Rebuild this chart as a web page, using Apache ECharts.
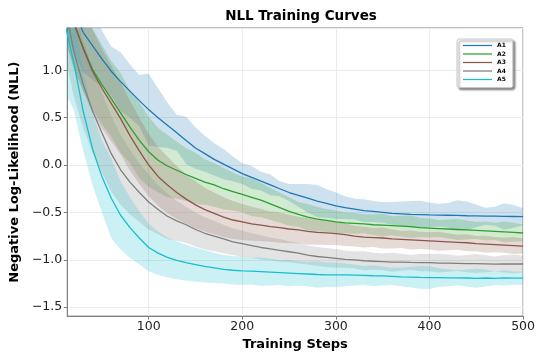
<!DOCTYPE html>
<html>
<head>
<meta charset="utf-8">
<script src="https://cdn.jsdelivr.net/npm/echarts@6/dist/echarts.min.js"></script>
<style>
  html, body { margin: 0; padding: 0; background: #fff; }
  #chart { width: 538px; height: 356px; }
</style>
</head>
<body>
<div id="chart"></div>
<script>
// training steps (x)
var steps = [10, 20, 30, 40, 50, 60, 70, 80, 90, 100,
  110, 120, 130, 140, 150, 160, 170, 180, 190, 200,
  210, 220, 230, 240, 250, 260, 270, 280, 290, 300,
  310, 320, 330, 340, 350, 360, 370, 380, 390, 400,
  410, 420, 430, 440, 450, 460, 470, 480, 490, 500];

// mean NLL per run
var meanA1 = [2.0, 1.64, 1.40, 1.26, 1.12, 0.99, 0.88, 0.78, 0.68, 0.585,
  0.50, 0.42, 0.34, 0.26, 0.18, 0.12, 0.06, 0.01, -0.04, -0.09,
  -0.13, -0.17, -0.21, -0.25, -0.29, -0.32, -0.35, -0.38, -0.405, -0.43,
  -0.45, -0.465, -0.48, -0.49, -0.50, -0.51, -0.515, -0.52, -0.523, -0.526,
  -0.528, -0.53, -0.532, -0.535, -0.536, -0.54, -0.54, -0.542, -0.543, -0.545];
var meanA2 = [1.85, 1.5, 1.24, 1.01, 0.85, 0.70, 0.55, 0.40, 0.26, 0.14,
  0.05, -0.01, -0.055, -0.10, -0.14, -0.18, -0.21, -0.25, -0.28, -0.31,
  -0.34, -0.37, -0.41, -0.45, -0.49, -0.52, -0.55, -0.57, -0.585, -0.60,
  -0.61, -0.615, -0.62, -0.63, -0.635, -0.64, -0.645, -0.65, -0.66, -0.665,
  -0.67, -0.675, -0.68, -0.685, -0.69, -0.695, -0.70, -0.705, -0.71, -0.717];
var meanA3 = [1.85, 1.5, 1.23, 0.99, 0.81, 0.65, 0.49, 0.31, 0.15, 0.0,
  -0.12, -0.21, -0.29, -0.36, -0.42, -0.47, -0.51, -0.55, -0.58, -0.60,
  -0.62, -0.635, -0.65, -0.66, -0.675, -0.685, -0.70, -0.71, -0.715, -0.724,
  -0.735, -0.75, -0.76, -0.765, -0.77, -0.78, -0.785, -0.79, -0.795, -0.80,
  -0.805, -0.81, -0.815, -0.82, -0.83, -0.835, -0.84, -0.845, -0.85, -0.856];
var meanA4 = [1.7, 1.2, 0.85, 0.57, 0.34, 0.12, -0.05, -0.18, -0.29, -0.39,
  -0.47, -0.54, -0.59, -0.63, -0.68, -0.72, -0.75, -0.78, -0.81, -0.83,
  -0.85, -0.87, -0.885, -0.90, -0.915, -0.93, -0.95, -0.965, -0.975, -0.985,
  -0.995, -1.0, -1.01, -1.015, -1.02, -1.025, -1.025, -1.028, -1.03, -1.03,
  -1.035, -1.035, -1.037, -1.04, -1.04, -1.042, -1.045, -1.043, -1.044, -1.044];
var meanA5 = [1.52, 1.08, 0.57, 0.17, -0.12, -0.35, -0.53, -0.66, -0.77, -0.87,
  -0.93, -0.975, -1.005, -1.03, -1.05, -1.07, -1.085, -1.10, -1.11, -1.117,
  -1.12, -1.125, -1.13, -1.135, -1.14, -1.145, -1.15, -1.155, -1.158, -1.16,
  -1.16, -1.162, -1.165, -1.168, -1.17, -1.175, -1.18, -1.182, -1.185, -1.187,
  -1.188, -1.19, -1.19, -1.192, -1.195, -1.192, -1.195, -1.19, -1.193, -1.194];

// spread (std) per run
var stdA1 = [0.50, 0.46, 0.42, 0.36, 0.30, 0.26, 0.31, 0.28, 0.27, 0.38,
  0.31, 0.24, 0.19, 0.25, 0.22, 0.19, 0.17, 0.16, 0.13, 0.11,
  0.12, 0.10, 0.11, 0.08, 0.09, 0.12, 0.15, 0.17, 0.15, 0.14,
  0.12, 0.11, 0.12, 0.11, 0.11, 0.12, 0.13, 0.14, 0.145, 0.13,
  0.12, 0.13, 0.16, 0.15, 0.12, 0.09, 0.10, 0.14, 0.12, 0.09];
var stdA2 = [0.50, 0.48, 0.45, 0.43, 0.42, 0.40, 0.42, 0.38, 0.40, 0.37,
  0.34, 0.33, 0.30, 0.28, 0.27, 0.24, 0.23, 0.22, 0.20, 0.19,
  0.20, 0.18, 0.17, 0.16, 0.15, 0.13, 0.14, 0.13, 0.12, 0.12,
  0.11, 0.11, 0.10, 0.11, 0.12, 0.10, 0.11, 0.12, 0.10, 0.10,
  0.09, 0.10, 0.11, 0.10, 0.09, 0.10, 0.09, 0.11, 0.10, 0.09];
var stdA3 = [0.50, 0.48, 0.46, 0.44, 0.42, 0.40, 0.38, 0.37, 0.35, 0.33,
  0.31, 0.30, 0.28, 0.26, 0.25, 0.23, 0.22, 0.21, 0.20, 0.19,
  0.18, 0.17, 0.16, 0.16, 0.15, 0.14, 0.14, 0.13, 0.13, 0.12,
  0.12, 0.11, 0.11, 0.10, 0.11, 0.10, 0.09, 0.10, 0.09, 0.09,
  0.10, 0.09, 0.08, 0.09, 0.08, 0.09, 0.08, 0.08, 0.09, 0.08];
var stdA4 = [0.50, 0.48, 0.46, 0.44, 0.42, 0.40, 0.37, 0.34, 0.31, 0.29,
  0.26, 0.24, 0.21, 0.19, 0.18, 0.17, 0.16, 0.15, 0.14, 0.14,
  0.13, 0.13, 0.12, 0.12, 0.11, 0.11, 0.10, 0.10, 0.10, 0.10,
  0.09, 0.09, 0.10, 0.09, 0.09, 0.10, 0.09, 0.08, 0.09, 0.09,
  0.10, 0.09, 0.08, 0.09, 0.10, 0.09, 0.08, 0.09, 0.10, 0.09];
var stdA5 = [0.74, 0.50, 0.42, 0.38, 0.38, 0.42, 0.36, 0.32, 0.28, 0.25,
  0.23, 0.21, 0.20, 0.19, 0.18, 0.17, 0.16, 0.15, 0.15, 0.15,
  0.14, 0.15, 0.14, 0.13, 0.14, 0.13, 0.13, 0.14, 0.13, 0.13,
  0.12, 0.11, 0.10, 0.11, 0.10, 0.09, 0.10, 0.11, 0.12, 0.12,
  0.10, 0.09, 0.08, 0.09, 0.10, 0.09, 0.07, 0.08, 0.07, 0.07];

var names = ['A1', 'A2', 'A3', 'A4', 'A5'];
var colors = ['#1f77b4', '#2ca02c', '#8c564b', '#7f7f7f', '#17becf'];
var means = [meanA1, meanA2, meanA3, meanA4, meanA5];
var stds = [stdA1, stdA2, stdA3, stdA4, stdA5];

var series = [];

// shaded band = mean +- std, drawn as one polygon through the axes
function bandSeries(k) {
  var m = means[k], sd = stds[k];
  var rows = steps.map(function (s, i) { return [s, m[i] - sd[i], m[i] + sd[i]]; });
  return {
    type: 'custom', silent: true, z: 1, clip: true,
    encode: { x: 0, y: [1, 2] },
    data: rows,
    renderItem: function (params, api) {
      if (params.dataIndex !== 0) return null;
      var pts = [];
      for (var i = 0; i < rows.length; i++) pts.push(api.coord([rows[i][0], rows[i][2]]));
      for (var j = rows.length - 1; j >= 0; j--) pts.push(api.coord([rows[j][0], rows[j][1]]));
      var cs = params.coordSys;
      return {
        type: 'polygon',
        shape: { points: pts },
        style: { fill: colors[k], opacity: 0.22 },
        clipPath: { type: 'rect', shape: { x: cs.x, y: cs.y, width: cs.width, height: cs.height } }
      };
    }
  };
}
for (var k = 0; k < names.length; k++) series.push(bandSeries(k));

// mean lines on top
for (var k = 0; k < names.length; k++) {
  var mm = means[k];
  series.push({
    name: names[k], type: 'line', symbol: 'none', showSymbol: false, z: 3,
    color: colors[k],
    lineStyle: { width: 1.3, color: colors[k] },
    data: steps.map(function (s, i) { return [s, mm[i]]; })
  });
}

var fmt = function (v) { return v.toFixed(1).replace('-', '\u2212'); };

var chart = echarts.init(document.getElementById('chart'), null, { renderer: 'canvas' });
chart.setOption({
  animation: false,
  backgroundColor: '#fff',
  textStyle: { fontFamily: 'DejaVu Sans' },
  title: {
    text: 'NLL Training Curves', left: 296, top: 4, textAlign: 'center',
    textStyle: { fontSize: 13.5, fontWeight: 'bold', color: '#000', fontFamily: 'DejaVu Sans' }
  },
  legend: {
    data: names, orient: 'vertical', left: 457, top: 39,
    icon: 'path://M0,0H30V1.3H0Z',
    padding: [3.5, 7, 5, 6], itemWidth: 29, itemHeight: 7, itemGap: 2.5,
    backgroundColor: '#fff', borderColor: '#c8c8c8', borderWidth: 1, borderRadius: 2,
    shadowBlur: 2, shadowColor: 'rgba(0,0,0,0.45)', shadowOffsetX: 2, shadowOffsetY: 2,
    textStyle: { fontSize: 6, fontWeight: 'bold', color: '#000' }
  },
  grid: { left: 67, right: 12, top: 28, bottom: 36, show: true, borderColor: '#808080', borderWidth: 1 },
  xAxis: {
    type: 'value', min: 13, max: 500, splitNumber: 5,
    name: 'Training Steps', nameLocation: 'middle', nameGap: 19,
    nameTextStyle: { fontSize: 13, fontWeight: 'bold', color: '#000' },
    axisLine: { show: true, onZero: false, lineStyle: { color: '#808080' } },
    axisTick: { show: true, length: 3.5, lineStyle: { color: '#808080' } },
    axisLabel: { fontSize: 12.5, color: '#222', margin: 4, showMinLabel: false },
    splitLine: { show: true, lineStyle: { color: '#ebebeb' } }
  },
  yAxis: {
    type: 'value', min: -1.594, max: 1.446, splitNumber: 5,
    name: 'Negative Log-Likelihood (NLL)', nameLocation: 'middle', nameGap: 42,
    nameTextStyle: { fontSize: 13, fontWeight: 'bold', color: '#000' },
    axisLine: { show: true, onZero: false, lineStyle: { color: '#808080' } },
    axisTick: { show: true, length: 3.5, lineStyle: { color: '#808080' } },
    axisLabel: { fontSize: 12.5, color: '#222', margin: 5, formatter: fmt, showMinLabel: false, showMaxLabel: false },
    splitLine: { show: true, lineStyle: { color: '#ebebeb' } }
  },
  series: series
});
</script>
</body>
</html>
